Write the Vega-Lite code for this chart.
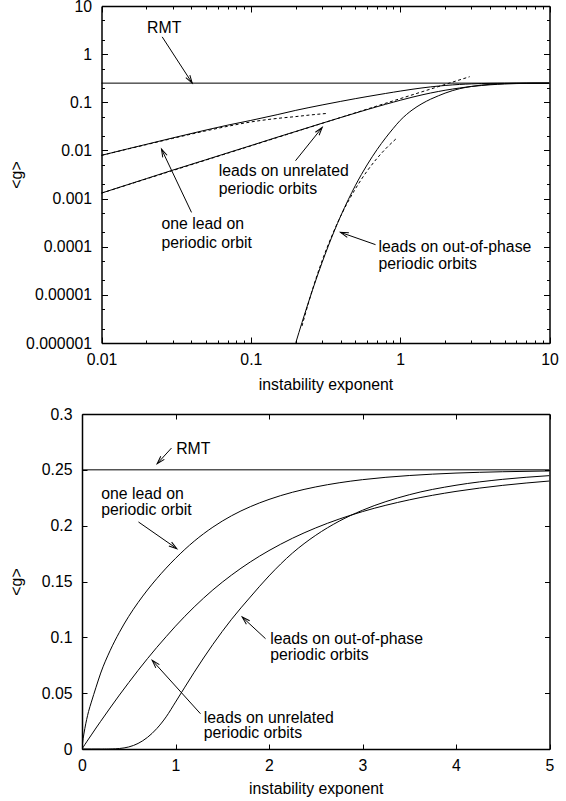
{
  "$schema": "https://vega.github.io/schema/vega-lite/v6.json",
  "background": "white",
  "padding": {"left": 8, "top": -2, "right": 0, "bottom": 0},
  "config": {
    "font": "Liberation Sans",
    "view": {"stroke": null},
    "axis": {
      "grid": false,
      "domainColor": "black",
      "domainWidth": 1.5,
      "tickColor": "black",
      "tickWidth": 1,
      "labelFont": "Liberation Sans",
      "labelFontSize": 15.8,
      "labelColor": "black",
      "titleFont": "Liberation Sans",
      "titleFontSize": 15.8,
      "titleFontWeight": "normal",
      "titleColor": "black",
      "labelFlush": false,
      "labelOverlap": false,
      "labelBound": false
    },
    "text": {"font": "Liberation Sans", "fontSize": 15.8, "color": "black"}
  },
  "datasets": {
    "solid": [
      {"series": "RMT", "x": 0, "g": 0.25},
      {"series": "RMT", "x": 0.01, "g": 0.25},
      {"series": "RMT", "x": 5, "g": 0.25},
      {"series": "RMT", "x": 10, "g": 0.25},
      {"series": "one", "x": 0, "g": 0},
      {"series": "one", "x": 0.01, "g": 0.0079},
      {"series": "one", "x": 0.015, "g": 0.0108},
      {"series": "one", "x": 0.02, "g": 0.0134},
      {"series": "one", "x": 0.03, "g": 0.0182},
      {"series": "one", "x": 0.05, "g": 0.0265},
      {"series": "one", "x": 0.07, "g": 0.0335},
      {"series": "one", "x": 0.1, "g": 0.042},
      {"series": "one", "x": 0.15, "g": 0.0553},
      {"series": "one", "x": 0.2, "g": 0.068},
      {"series": "one", "x": 0.3, "g": 0.088},
      {"series": "one", "x": 0.4, "g": 0.1045},
      {"series": "one", "x": 0.5, "g": 0.1188},
      {"series": "one", "x": 0.6, "g": 0.1312},
      {"series": "one", "x": 0.7, "g": 0.1424},
      {"series": "one", "x": 0.8, "g": 0.1526},
      {"series": "one", "x": 0.9, "g": 0.162},
      {"series": "one", "x": 1.0, "g": 0.1707},
      {"series": "one", "x": 1.2, "g": 0.1861},
      {"series": "one", "x": 1.4, "g": 0.1987},
      {"series": "one", "x": 1.6, "g": 0.2089},
      {"series": "one", "x": 1.8, "g": 0.217},
      {"series": "one", "x": 2.0, "g": 0.2235},
      {"series": "one", "x": 2.25, "g": 0.2299},
      {"series": "one", "x": 2.5, "g": 0.2347},
      {"series": "one", "x": 2.75, "g": 0.2384},
      {"series": "one", "x": 3.0, "g": 0.2412},
      {"series": "one", "x": 3.5, "g": 0.2449},
      {"series": "one", "x": 4.0, "g": 0.2471},
      {"series": "one", "x": 4.5, "g": 0.2483},
      {"series": "one", "x": 5.0, "g": 0.249},
      {"series": "one", "x": 6.0, "g": 0.2497},
      {"series": "one", "x": 7.0, "g": 0.2499},
      {"series": "one", "x": 8.0, "g": 0.24996},
      {"series": "one", "x": 10, "g": 0.25},
      {"series": "unrel", "x": 0, "g": 0},
      {"series": "unrel", "x": 0.01, "g": 0.0013},
      {"series": "unrel", "x": 0.015, "g": 0.00195},
      {"series": "unrel", "x": 0.02, "g": 0.0026},
      {"series": "unrel", "x": 0.03, "g": 0.0039},
      {"series": "unrel", "x": 0.05, "g": 0.0064},
      {"series": "unrel", "x": 0.07, "g": 0.0089},
      {"series": "unrel", "x": 0.1, "g": 0.0126},
      {"series": "unrel", "x": 0.15, "g": 0.0188},
      {"series": "unrel", "x": 0.2, "g": 0.0248},
      {"series": "unrel", "x": 0.3, "g": 0.0367},
      {"series": "unrel", "x": 0.4, "g": 0.0483},
      {"series": "unrel", "x": 0.5, "g": 0.0595},
      {"series": "unrel", "x": 0.6, "g": 0.0704},
      {"series": "unrel", "x": 0.7, "g": 0.0809},
      {"series": "unrel", "x": 0.8, "g": 0.091},
      {"series": "unrel", "x": 0.9, "g": 0.1006},
      {"series": "unrel", "x": 1.0, "g": 0.11},
      {"series": "unrel", "x": 1.2, "g": 0.1272},
      {"series": "unrel", "x": 1.4, "g": 0.1425},
      {"series": "unrel", "x": 1.6, "g": 0.1558},
      {"series": "unrel", "x": 1.8, "g": 0.1675},
      {"series": "unrel", "x": 2.0, "g": 0.1777},
      {"series": "unrel", "x": 2.25, "g": 0.1887},
      {"series": "unrel", "x": 2.5, "g": 0.198},
      {"series": "unrel", "x": 2.75, "g": 0.2059},
      {"series": "unrel", "x": 3.0, "g": 0.2126},
      {"series": "unrel", "x": 3.5, "g": 0.2231},
      {"series": "unrel", "x": 4.0, "g": 0.2307},
      {"series": "unrel", "x": 4.5, "g": 0.2361},
      {"series": "unrel", "x": 5.0, "g": 0.24},
      {"series": "unrel", "x": 6.0, "g": 0.2448},
      {"series": "unrel", "x": 7.0, "g": 0.2473},
      {"series": "unrel", "x": 8.0, "g": 0.2486},
      {"series": "unrel", "x": 10, "g": 0.2496},
      {"series": "oop", "x": 0, "g": 0},
      {"series": "oop", "x": 0.1, "g": 0},
      {"series": "oop", "x": 0.15, "g": 0},
      {"series": "oop", "x": 0.2, "g": 0.00000101},
      {"series": "oop", "x": 0.21, "g": 0.00000166},
      {"series": "oop", "x": 0.22, "g": 0.00000265},
      {"series": "oop", "x": 0.24, "g": 0.0000062},
      {"series": "oop", "x": 0.26, "g": 0.0000132},
      {"series": "oop", "x": 0.28, "g": 0.0000258},
      {"series": "oop", "x": 0.3, "g": 0.0000469},
      {"series": "oop", "x": 0.33, "g": 0.000103},
      {"series": "oop", "x": 0.36, "g": 0.000203},
      {"series": "oop", "x": 0.4, "g": 0.000437},
      {"series": "oop", "x": 0.45, "g": 0.00096},
      {"series": "oop", "x": 0.5, "g": 0.00184},
      {"series": "oop", "x": 0.55, "g": 0.00316},
      {"series": "oop", "x": 0.6, "g": 0.00499},
      {"series": "oop", "x": 0.65, "g": 0.00739},
      {"series": "oop", "x": 0.7, "g": 0.0104},
      {"series": "oop", "x": 0.8, "g": 0.0183},
      {"series": "oop", "x": 0.9, "g": 0.0288},
      {"series": "oop", "x": 1.0, "g": 0.042},
      {"series": "oop", "x": 1.1, "g": 0.0554},
      {"series": "oop", "x": 1.2, "g": 0.0687},
      {"series": "oop", "x": 1.4, "g": 0.0937},
      {"series": "oop", "x": 1.6, "g": 0.1162},
      {"series": "oop", "x": 1.8, "g": 0.1361},
      {"series": "oop", "x": 2.0, "g": 0.155},
      {"series": "oop", "x": 2.25, "g": 0.1754},
      {"series": "oop", "x": 2.5, "g": 0.1914},
      {"series": "oop", "x": 2.75, "g": 0.204},
      {"series": "oop", "x": 3.0, "g": 0.2138},
      {"series": "oop", "x": 3.5, "g": 0.2277},
      {"series": "oop", "x": 4.0, "g": 0.2362},
      {"series": "oop", "x": 4.5, "g": 0.2415},
      {"series": "oop", "x": 5.0, "g": 0.2448},
      {"series": "oop", "x": 6.0, "g": 0.248},
      {"series": "oop", "x": 7.0, "g": 0.2492},
      {"series": "oop", "x": 8.0, "g": 0.2497},
      {"series": "oop", "x": 10, "g": 0.25}
    ],
    "dashed": [
      {"series": "d1", "x": 0.01, "g": 0.0079},
      {"series": "d1", "x": 0.015, "g": 0.0107},
      {"series": "d1", "x": 0.02, "g": 0.0132},
      {"series": "d1", "x": 0.03, "g": 0.0178},
      {"series": "d1", "x": 0.05, "g": 0.0255},
      {"series": "d1", "x": 0.07, "g": 0.0317},
      {"series": "d1", "x": 0.1, "g": 0.039},
      {"series": "d1", "x": 0.15, "g": 0.0462},
      {"series": "d1", "x": 0.2, "g": 0.0505},
      {"series": "d1", "x": 0.25, "g": 0.0545},
      {"series": "d1", "x": 0.33, "g": 0.059},
      {"series": "d2", "x": 0.01, "g": 0.0013},
      {"series": "d2", "x": 2.92, "g": 0.34},
      {"series": "d3", "x": 0.22, "g": 0.00000225},
      {"series": "d3", "x": 0.25, "g": 0.0000091},
      {"series": "d3", "x": 0.3, "g": 0.000051},
      {"series": "d3", "x": 0.35, "g": 0.000173},
      {"series": "d3", "x": 0.4, "g": 0.000435},
      {"series": "d3", "x": 0.5, "g": 0.00157},
      {"series": "d3", "x": 0.6, "g": 0.00371},
      {"series": "d3", "x": 0.7, "g": 0.00685},
      {"series": "d3", "x": 0.8, "g": 0.01084},
      {"series": "d3", "x": 0.94, "g": 0.0175}
    ],
    "arrows": [
      {"panel": "top", "x1": 0.02549, "y1": 2.286, "x2": 0.0405, "y2": 0.25, "angle": 146.9},
      {"panel": "top", "x1": 0.04006, "y1": 0.000516, "x2": 0.02522, "y2": 0.01067, "angle": -25.3},
      {"panel": "top", "x1": 0.1991, "y1": 0.00611, "x2": 0.3006, "y2": 0.02998, "angle": 38.7},
      {"panel": "top", "x1": 0.684, "y1": 0.0001104, "x2": 0.3987, "y2": 0.0001986, "angle": -70.6},
      {"panel": "bottom", "x1": 0.957, "y1": 0.2695, "x2": 0.804, "y2": 0.2555, "angle": -137.7},
      {"panel": "bottom", "x1": 0.604, "y1": 0.2033, "x2": 1.014, "y2": 0.1794, "angle": 124.9},
      {"panel": "bottom", "x1": 1.963, "y1": 0.0988, "x2": 1.713, "y2": 0.1182, "angle": -47.0},
      {"panel": "bottom", "x1": 1.267, "y1": 0.0316, "x2": 0.751, "y2": 0.0794, "angle": -42.1}
    ],
    "labels": [
      {"panel": "top", "x": 0.0202, "y": 2.81, "text": "RMT"},
      {"panel": "top", "x": 0.02522, "y": 0.0002334, "text": "one lead on"},
      {"panel": "top", "x": 0.02522, "y": 0.0000942, "text": "periodic orbit"},
      {"panel": "top", "x": 0.061, "y": 0.00298, "text": "leads on unrelated"},
      {"panel": "top", "x": 0.061, "y": 0.001244, "text": "periodic orbits"},
      {"panel": "top", "x": 0.716, "y": 0.0000764, "text": "leads on out-of-phase"},
      {"panel": "top", "x": 0.716, "y": 0.0000345, "text": "periodic orbits"},
      {"panel": "bottom", "x": 1.0075, "y": 0.2644, "text": "RMT"},
      {"panel": "bottom", "x": 0.2053, "y": 0.2241, "text": "one lead on"},
      {"panel": "bottom", "x": 0.2053, "y": 0.2093, "text": "periodic orbit"},
      {"panel": "bottom", "x": 2.013, "y": 0.0936, "text": "leads on out-of-phase"},
      {"panel": "bottom", "x": 2.013, "y": 0.0794, "text": "periodic orbits"},
      {"panel": "bottom", "x": 1.3027, "y": 0.02355, "text": "leads on unrelated"},
      {"panel": "bottom", "x": 1.3027, "y": 0.00958, "text": "periodic orbits"}
    ]
  },
  "concat": [
    {
      "width": 467.5,
      "height": 337,
      "layer": [
        {
          "data": {"name": "solid"},
          "transform": [{"filter": "datum.x >= 0.01 && datum.g > 0"}],
          "mark": {"type": "line", "color": "black", "strokeWidth": 1, "clip": true, "interpolate": "monotone"},
          "encoding": {
            "x": {"field": "x", "type": "quantitative", "scale": {"type": "log", "domain": [0.01, 10], "range": [19.5, 467.5], "nice": false},
              "axis": {"orient": "bottom", "title": "instability exponent",
                "values": [0.01,0.02,0.03,0.04,0.05,0.06,0.07,0.08,0.09,0.1,0.2,0.3,0.4,0.5,0.6,0.7,0.8,0.9,1,2,3,4,5,6,7,8,9,10],
                "labelExpr": "indexof([0.01,0.1,1,10], datum.value) >= 0 ? format(datum.value, '.6~f') : ''",
                "tickSize": {"condition": {"test": "indexof([0.01,0.1,1,10], datum.value) < 0", "value": -3}, "value": -6},
                "labelPadding": 15.5, "titlePadding": 7}},
            "y": {"field": "g", "type": "quantitative", "scale": {"type": "log", "domain": [0.000001, 10], "nice": false},
              "axis": {"orient": "left", "title": "<g>", "offset": -19.5,
                "values": [0.000001,0.000002,0.000005,0.00001,0.00002,0.00005,0.0001,0.0002,0.0005,0.001,0.002,0.005,0.01,0.02,0.05,0.1,0.2,0.5,1,2,5,10],
                "labelExpr": "indexof([0.000001,0.00001,0.0001,0.001,0.01,0.1,1,10], datum.value) >= 0 ? format(datum.value, '.6~f') : ''",
                "tickSize": {"condition": {"test": "indexof([0.000001,0.00001,0.0001,0.001,0.01,0.1,1,10], datum.value) < 0", "value": -3}, "value": -6},
                "labelPadding": 16, "titlePadding": 1}},
            "detail": {"field": "series", "type": "nominal"}
          }
        },
        {
          "data": {"name": "solid"},
          "transform": [{"filter": "datum.x >= 0.01 && datum.g > 0"}],
          "mark": {"type": "line", "opacity": 0, "clip": true},
          "encoding": {
            "x": {"field": "x", "type": "quantitative", "scale": {"type": "log", "domain": [0.01, 10], "range": [19.5, 467.5], "nice": false},
              "axis": {"orient": "top", "title": null, "labels": false,
                "values": [0.01,0.02,0.03,0.04,0.05,0.06,0.07,0.08,0.09,0.1,0.2,0.3,0.4,0.5,0.6,0.7,0.8,0.9,1,2,3,4,5,6,7,8,9,10],
                "tickSize": {"condition": {"test": "indexof([0.01,0.1,1,10], datum.value) < 0", "value": -3}, "value": -6}}},
            "y": {"field": "g", "type": "quantitative", "scale": {"type": "log", "domain": [0.000001, 10], "nice": false},
              "axis": {"orient": "right", "title": null, "labels": false,
                "values": [0.000001,0.000002,0.000005,0.00001,0.00002,0.00005,0.0001,0.0002,0.0005,0.001,0.002,0.005,0.01,0.02,0.05,0.1,0.2,0.5,1,2,5,10],
                "tickSize": {"condition": {"test": "indexof([0.000001,0.00001,0.0001,0.001,0.01,0.1,1,10], datum.value) < 0", "value": -3}, "value": -6}}},
            "detail": {"field": "series", "type": "nominal"}
          }
        },
        {
          "data": {"name": "dashed"},
          "mark": {"type": "line", "color": "black", "strokeWidth": 1, "strokeDash": [3, 2.5], "clip": true, "interpolate": "monotone"},
          "encoding": {
            "x": {"field": "x", "type": "quantitative", "scale": {"type": "log", "domain": [0.01, 10], "range": [19.5, 467.5], "nice": false}, "axis": null},
            "y": {"field": "g", "type": "quantitative", "scale": {"type": "log", "domain": [0.000001, 10], "nice": false}, "axis": null},
            "detail": {"field": "series", "type": "nominal"}
          }
        },
        {
          "data": {"name": "arrows"},
          "transform": [{"filter": "datum.panel == 'top'"}],
          "mark": {"type": "rule", "color": "black", "strokeWidth": 1},
          "encoding": {
            "x": {"field": "x1", "type": "quantitative", "scale": {"type": "log", "domain": [0.01, 10], "range": [19.5, 467.5], "nice": false}, "axis": null},
            "y": {"field": "y1", "type": "quantitative", "scale": {"type": "log", "domain": [0.000001, 10], "nice": false}, "axis": null},
            "x2": {"field": "x2"},
            "y2": {"field": "y2"}
          }
        },
        {
          "data": {"name": "arrows"},
          "transform": [{"filter": "datum.panel == 'top'"}],
          "mark": {"type": "point", "shape": "M-0.3,1L0,0L0.3,1", "filled": false, "stroke": "black", "strokeWidth": 1, "size": 256, "opacity": 1},
          "encoding": {
            "x": {"field": "x2", "type": "quantitative", "scale": {"type": "log", "domain": [0.01, 10], "range": [19.5, 467.5], "nice": false}, "axis": null},
            "y": {"field": "y2", "type": "quantitative", "scale": {"type": "log", "domain": [0.000001, 10], "nice": false}, "axis": null},
            "angle": {"field": "angle", "type": "quantitative", "scale": null}
          }
        },
        {
          "data": {"name": "labels"},
          "transform": [{"filter": "datum.panel == 'top'"}],
          "mark": {"type": "text", "align": "left", "baseline": "alphabetic", "font": "Liberation Sans", "fontSize": 15.8, "color": "black"},
          "encoding": {
            "x": {"field": "x", "type": "quantitative", "scale": {"type": "log", "domain": [0.01, 10], "range": [19.5, 467.5], "nice": false}, "axis": null},
            "y": {"field": "y", "type": "quantitative", "scale": {"type": "log", "domain": [0.000001, 10], "nice": false}, "axis": null},
            "text": {"field": "text", "type": "nominal"}
          }
        }
      ],
      "resolve": {"axis": {"x": "independent", "y": "independent"}}
    },
    {
      "width": 467.5,
      "height": 335,
      "layer": [
        {
          "data": {"name": "solid"},
          "transform": [{"filter": "datum.x <= 5"}],
          "mark": {"type": "line", "color": "black", "strokeWidth": 1, "clip": true, "interpolate": "monotone"},
          "encoding": {
            "x": {"field": "x", "type": "quantitative", "scale": {"domain": [0, 5], "nice": false, "zero": false},
              "axis": {"orient": "bottom", "title": "instability exponent", "values": [0,1,2,3,4,5], "format": "d",
                "tickSize": -5, "labelPadding": 14.5, "titlePadding": 8}},
            "y": {"field": "g", "type": "quantitative", "scale": {"domain": [0, 0.3], "nice": false, "zero": false},
              "axis": {"orient": "left", "title": "<g>", "values": [0,0.05,0.1,0.15,0.2,0.25,0.3], "format": ".2~f",
                "tickSize": -5, "labelPadding": 15, "titlePadding": 16.7}},
            "detail": {"field": "series", "type": "nominal"}
          }
        },
        {
          "data": {"name": "solid"},
          "transform": [{"filter": "datum.x <= 5"}],
          "mark": {"type": "line", "opacity": 0, "clip": true},
          "encoding": {
            "x": {"field": "x", "type": "quantitative", "scale": {"domain": [0, 5], "nice": false, "zero": false},
              "axis": {"orient": "top", "title": null, "labels": false, "values": [0,1,2,3,4,5], "tickSize": -5}},
            "y": {"field": "g", "type": "quantitative", "scale": {"domain": [0, 0.3], "nice": false, "zero": false},
              "axis": {"orient": "right", "title": null, "labels": false, "values": [0,0.05,0.1,0.15,0.2,0.25,0.3], "tickSize": -5}},
            "detail": {"field": "series", "type": "nominal"}
          }
        },
        {
          "data": {"name": "arrows"},
          "transform": [{"filter": "datum.panel == 'bottom'"}],
          "mark": {"type": "rule", "color": "black", "strokeWidth": 1},
          "encoding": {
            "x": {"field": "x1", "type": "quantitative", "scale": {"domain": [0, 5], "nice": false, "zero": false}, "axis": null},
            "y": {"field": "y1", "type": "quantitative", "scale": {"domain": [0, 0.3], "nice": false, "zero": false}, "axis": null},
            "x2": {"field": "x2"},
            "y2": {"field": "y2"}
          }
        },
        {
          "data": {"name": "arrows"},
          "transform": [{"filter": "datum.panel == 'bottom'"}],
          "mark": {"type": "point", "shape": "M-0.3,1L0,0L0.3,1", "filled": false, "stroke": "black", "strokeWidth": 1, "size": 256, "opacity": 1},
          "encoding": {
            "x": {"field": "x2", "type": "quantitative", "scale": {"domain": [0, 5], "nice": false, "zero": false}, "axis": null},
            "y": {"field": "y2", "type": "quantitative", "scale": {"domain": [0, 0.3], "nice": false, "zero": false}, "axis": null},
            "angle": {"field": "angle", "type": "quantitative", "scale": null}
          }
        },
        {
          "data": {"name": "labels"},
          "transform": [{"filter": "datum.panel == 'bottom'"}],
          "mark": {"type": "text", "align": "left", "baseline": "alphabetic", "font": "Liberation Sans", "fontSize": 15.8, "color": "black"},
          "encoding": {
            "x": {"field": "x", "type": "quantitative", "scale": {"domain": [0, 5], "nice": false, "zero": false}, "axis": null},
            "y": {"field": "y", "type": "quantitative", "scale": {"domain": [0, 0.3], "nice": false, "zero": false}, "axis": null},
            "text": {"field": "text", "type": "nominal"}
          }
        }
      ],
      "resolve": {"axis": {"x": "independent", "y": "independent"}}
    }
  ],
  "columns": 1,
  "align": "none",
  "spacing": 13
}
